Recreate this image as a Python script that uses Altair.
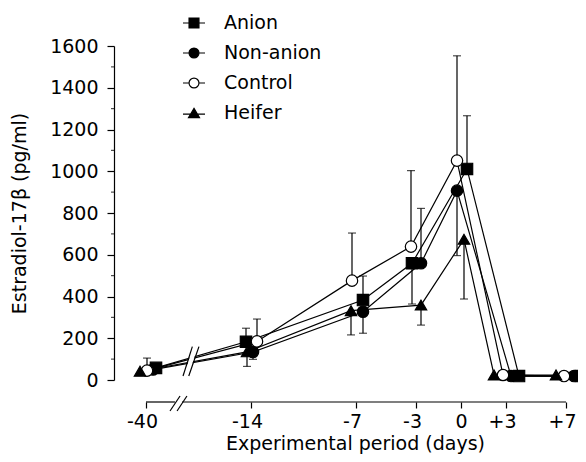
import altair as alt
import pandas as pd

# ---------------- data ----------------
days = [-40, -14, -7, -3, 0, 3, 7]
x_tick_labels = ["-40", "-14", "-7", "-3", "0", "+3", "+7"]
series_names = ["Anion", "Non-anion", "Control", "Heifer"]

anion = [58, 183, 383, 559, 1011, 19, 19]
non_anion = [50, 134, 327, 559, 907, 19, 19]
control = [45, 185, 476, 639, 1051, 24, 19]
heifer = [42, 135, 332, 359, 674, 24, 24]

# error bars: positive = drawn upward, negative = drawn downward
anion_err = [0, 65, 115, -195, 255, 0, 0]
non_anion_err = [0, -35, -103, 263, -311, 0, 0]
control_err = [60, 107, 228, 364, 502, 0, 0]
heifer_err = [0, -70, -116, -96, -286, 0, 0]

# small horizontal dodge of the symbols (in pixels)
anion_dx = [10, -5, 7, -4, 6, 13, 15]
non_anion_dx = [7, 2, 7, 5, -4, 5, 8]
control_dx = [1, 6, -4, -5, -4, -3, -2]
heifer_dx = [-6, -4, -5, 5, 3, -12, -10]

y_ticks = list(range(0, 1601, 200))
y_minor = list(range(100, 1600, 200))

# ---------------- broken x axis ----------------
PX_PER_DAY = 15.0
BREAK_DAY = -40          # drawn at the place of day -21
BREAK_POS = -21


def axis_pos(d):
    return BREAK_POS if d == BREAK_DAY else d


tick_pos = [axis_pos(d) for d in days]

rows = []
for name, vals, errs, dxs in zip(
    series_names,
    [anion, non_anion, control, heifer],
    [anion_err, non_anion_err, control_err, heifer_err],
    [anion_dx, non_anion_dx, control_dx, heifer_dx],
):
    for i, (d, v, e, dx) in enumerate(zip(days, vals, errs, dxs)):
        rows.append(dict(series=name, idx=i, day=d,
                         pos=axis_pos(d) + dx / PX_PER_DAY,
                         value=v, err=e, top=v + e))
df = pd.DataFrame(rows)
err_df = df[df["err"] != 0].reset_index(drop=True)

W, H = 464, 334
x_dom = [(114 - 461) / PX_PER_DAY, (114 + W - 461) / PX_PER_DAY]
xs = alt.Scale(domain=x_dom, nice=False, zero=False)
ys = alt.Scale(domain=[0, 1600], nice=False, zero=False)

FONT = "DejaVu Sans"
FS = 19

label_expr = " : ".join(
    f"datum.value == {p} ? '{t}'" for p, t in zip(tick_pos, x_tick_labels)
) + " : ''"

x_axis = alt.Axis(
    values=tick_pos, labelExpr=label_expr, domain=False, grid=False,
    offset=22, tickSize=6, tickWidth=1.2, tickColor="black",
    labelFont=FONT, labelFontSize=FS, labelColor="black", labelPadding=4,
    labelOffset={"condition": {"test": "datum.value == 0", "value": 0}, "value": -4},
    title="Experimental period (days)", titleFont=FONT, titleFontSize=FS,
    titleFontWeight="normal", titleColor="black",
    titleX=241, titleY=47, titleBaseline="alphabetic",
)
y_axis = alt.Axis(
    values=y_ticks, format="d", grid=False, domain=True, domainColor="black",
    domainWidth=1.2, tickSize=7, tickWidth=1.2, tickColor="black",
    labelFont=FONT, labelFontSize=FS, labelColor="black", labelPadding=9,
    title="Estradiol-17\u03b2 (pg/ml)", titleFont=FONT, titleFontSize=FS,
    titleFontWeight="normal", titleColor="black", titlePadding=20,
)


def X(field):
    return alt.X(field, scale=xs, axis=x_axis)


def Y(field):
    return alt.Y(field, scale=ys, axis=y_axis)


base = alt.Chart(df)

lines = base.mark_line(color="black", strokeWidth=1.2).encode(
    x=X("pos:Q"), y=Y("value:Q"),
    detail="series:N",
    order="idx:Q",
)

# break marks on the data lines (between -40 and -14)
brk = pd.DataFrame({
    "x1": [-18.53, -18.15], "x2": [-17.91, -17.47],
    "y1": [19, 19], "y2": [160, 160],
})
band_df = pd.DataFrame({"x1": [-18.34], "x2": [-17.69], "y1": [15], "y2": [165]})
band = alt.Chart(band_df).mark_rule(color="white", strokeWidth=4.5).encode(
    x=X("x1:Q"), x2="x2:Q", y=Y("y1:Q"), y2="y2:Q",
)
slashes = alt.Chart(brk).mark_rule(color="black", strokeWidth=1.2).encode(
    x=X("x1:Q"), x2="x2:Q", y=Y("y1:Q"), y2="y2:Q",
)

bars = alt.Chart(err_df).mark_rule(color="black", strokeWidth=1.2).encode(
    x=X("pos:Q"), y=Y("value:Q"), y2="top:Q",
)
caps = alt.Chart(err_df).mark_tick(color="black", orient="horizontal",
                                   size=8, thickness=1.2).encode(
    x=X("pos:Q"), y=Y("top:Q"),
)

shape_range = ["square", "circle", "circle", "triangle-up"]
fill_range = ["black", "black", "white", "black"]

points = base.mark_point(filled=True, size=130, stroke="black",
                         strokeWidth=1.2, opacity=1).encode(
    x=X("pos:Q"), y=Y("value:Q"),
    shape=alt.Shape("series:N", scale=alt.Scale(domain=series_names, range=shape_range), legend=None),
    fill=alt.Fill("series:N", scale=alt.Scale(domain=series_names, range=fill_range), legend=None),
)

minor = alt.Chart(pd.DataFrame({"v": y_minor})).mark_tick(
    color="black", orient="horizontal", size=3, thickness=1.2).encode(
    x=alt.value(-1.5),
    y=Y("v:Q"),
)

# x-axis line with a break
xdom_df = pd.DataFrame({"x1": [BREAK_POS, -18.6], "x2": [-19.07, 7]})
xdomain = alt.Chart(xdom_df).mark_rule(color="black", strokeWidth=1.2).encode(
    x=X("x1:Q"), x2="x2:Q",
    y=alt.value(H + 22),
)
xs_df = pd.DataFrame({"x1": [-19.4, -18.93], "x2": [-18.73, -18.27]})
xslash = alt.Chart(xs_df).mark_rule(color="black", strokeWidth=1.2).encode(
    x=X("x1:Q"), x2="x2:Q",
    y=alt.value(H + 31), y2=alt.value(H + 16),
)

legend_paths = [
    "M-1,0H-0.45M0.45,0H1M-0.45,-0.45H0.45V0.45H-0.45Z",
    "M-1,0H-0.45M0.45,0H1M-0.45,0A0.45,0.45,0,1,1,0.45,0A0.45,0.45,0,1,1,-0.45,0Z",
    "M-1,0H-0.45M0.45,0H1M-0.45,0A0.45,0.45,0,1,1,0.45,0A0.45,0.45,0,1,1,-0.45,0Z",
    "M-1,0.1H-0.3M0.3,0.1H1M0,-0.42L0.5,0.42H-0.5Z",
]
leg = dict(title=None, orient="none", legendX=68, legendY=-35, padding=0,
           symbolSize=484, symbolStrokeWidth=1.2, symbolStrokeColor="black",
           labelFont=FONT, labelFontSize=FS, labelColor="black",
           labelOffset=18, rowPadding=8)
legend_layer = base.transform_filter("false").mark_point(
    filled=False, color="black", stroke="black", strokeWidth=1.2, opacity=1).encode(
    x=X("pos:Q"), y=Y("value:Q"),
    shape=alt.Shape("series:N", scale=alt.Scale(domain=series_names, range=legend_paths),
                    legend=alt.Legend(**leg)),
    fill=alt.Fill("series:N", scale=alt.Scale(domain=series_names, range=fill_range),
                  legend=alt.Legend(**leg)),
    stroke=alt.Stroke("series:N", scale=alt.Scale(domain=series_names, range=["black"] * 4),
                      legend=alt.Legend(**leg)),
)

chart = alt.layer(
    lines, band, slashes, bars, caps, points, minor, xdomain, xslash, legend_layer
).resolve_scale(
    shape="independent", fill="independent", stroke="independent"
).properties(
    width=W, height=H,
    padding={"left": 106, "top": 38, "right": 0, "bottom": 74},
    autosize=alt.AutoSizeParams(type="none"),
    background="white",
).configure_view(stroke=None)

chart.save("out.html", embed_options={"renderer": "svg", "actions": False})
